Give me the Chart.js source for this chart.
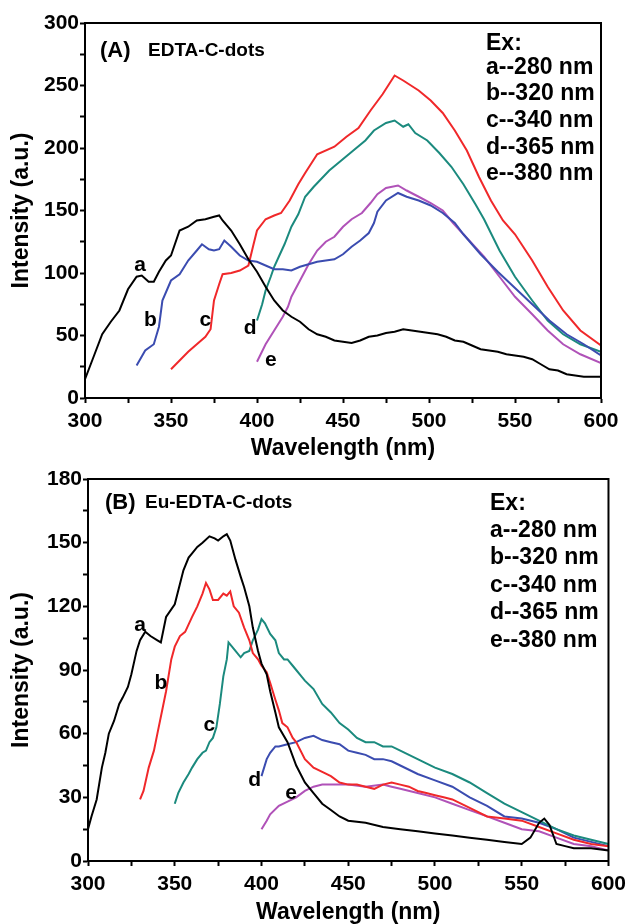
<!DOCTYPE html>
<html>
<head>
<meta charset="utf-8">
<script src="https://cdn.jsdelivr.net/npm/chart.js@4.4.0/dist/chart.umd.min.js"></script>
<style>
  body { margin: 0; background: #fff; }
  .box { position: absolute; left: 0; width: 632px; }
</style>
</head>
<body>
<div class="box" style="top:0;height:460px"><canvas id="chartA" width="632" height="460"></canvas></div>
<div class="box" style="top:460px;height:464px"><canvas id="chartB" width="632" height="464"></canvas></div>
<script>
// ---- (A) EDTA-C-dots ----
const topA_nm = [300,305,310,315,320,325,330,333,337,340,343,347,350,355,360,365,370,375,378,380,385,390,395,400,405,410,415,420,425,430,435,440,445,450,455,460,465,470,475,480,485,490,495,500,505,510,515,520,525,530,535,540,545,550,555,560,565,570,575,580,585,590,595,600];
const topA_int = [15,33,51,61,70,87,97,98,93,93,101,110,114,134,137,142,143,145,146,142,134,123,111,101,89,78,70,65,61,55,51,49,46,45,44,46,49,50,52,53,55,54,53,52,51,49,46,45,42,39,38,37,35,34,33,31,27,23,22,19,18,17,17,17];
const topB_nm = [330,335,340,343,345,350,355,360,365,368,372,375,378,381,385,390,395,400,405,410,415,420,425,430,435,440,445,450,455,460,465,468,470,475,482,487,494,501,508,515,520,530,540,550,560,570,580,590,600];
const topB_int = [26,38,43,57,78,94,99,110,118,123,119,118,119,126,121,114,110,109,106,103,103,102,105,107,109,110,111,115,121,126,132,140,149,158,164,161,158,154,148,140,131,115,101,88,75,62,51,43,34];
const topC_nm = [350,355,360,365,370,373,375,378,380,385,390,395,398,400,405,410,414,419,424,428,435,445,452,459,466,473,480,485,494,501,508,515,522,529,536,543,550,560,569,578,588,600];
const topC_int = [23,30,37,43,49,55,78,91,99,100,102,106,123,134,143,146,148,158,171,180,195,201,209,216,230,243,258,254,246,238,228,214,198,177,158,142,131,110,89,70,54,42];
const topD_nm = [400,403,405,408,410,413,416,420,424,428,433,442,449,456,463,468,475,480,485,488,492,499,506,513,520,527,532,541,550,560,569,578,588,600];
const topD_int = [62,75,86,97,105,114,123,137,147,161,169,182,190,198,206,214,220,222,217,219,212,206,196,185,171,155,143,118,97,78,62,51,43,37];
const topE_nm = [400,405,410,415,418,420,425,430,435,440,445,450,455,461,466,470,475,482,487,494,501,508,514,520,532,541,550,560,569,578,588,600];
const topE_int = [29,43,54,65,73,81,94,107,118,125,129,137,143,148,156,163,168,170,166,161,156,150,140,131,113,97,81,67,54,43,35,28];
const topTagNm = [332,338,370,396,408];
const topTagInt = [106,62,62,56,30];

// ---- (B) Eu-EDTA-C-dots ----
const botA_nm = [300,302,305,308,310,312,315,318,320,323,325,328,330,333,336,340,342,345,350,355,358,360,363,366,370,373,375,378,380,382,385,388,390,393,395,398,400,403,405,408,410,415,420,425,430,435,440,445,450,460,470,480,490,500,510,520,530,540,550,555,560,563,566,570,575,580,590,600];
const botA_int = [15,21,29,44,51,60,66,74,77,82,88,99,104,108,106,104,103,115,121,137,143,145,148,150,153,152,151,153,154,151,142,134,129,120,110,99,93,88,80,70,63,56,45,37,32,27,24,21,19,18,16,15,14,13,12,11,10,9,8,11,18,20,17,8,7,6,6,5];
const botB_nm = [330,332,335,338,340,343,345,348,350,353,356,360,363,366,368,370,372,375,378,380,382,384,387,390,393,395,398,400,403,405,408,410,412,415,418,420,425,430,435,440,445,450,455,460,465,470,475,480,485,490,495,500,505,510,515,520,525,530,540,550,560,570,580,590,600];
const botB_int = [29,33,44,52,60,72,80,95,101,106,108,115,120,126,131,128,123,123,126,125,127,120,117,110,104,98,95,92,89,84,76,71,65,63,58,56,48,44,42,40,37,36,36,35,34,36,37,36,35,33,32,31,30,29,27,25,23,21,20,19,16,13,10,8,7];
const botC_nm = [350,352,355,358,360,363,366,368,370,372,374,376,378,380,381,383,385,388,390,393,395,398,400,402,405,408,410,413,415,418,420,423,425,430,435,440,445,450,455,460,465,470,475,480,485,490,495,500,510,520,530,540,550,560,570,580,590,600];
const botC_int = [27,32,37,41,44,48,51,52,56,58,63,74,87,95,103,101,99,96,98,99,104,109,114,112,107,104,98,95,95,92,90,87,85,81,74,70,65,62,58,56,56,54,54,52,50,48,46,44,41,37,32,27,23,19,15,12,10,8];
const botD_nm = [400,403,405,408,410,415,420,425,430,435,440,445,450,455,460,465,470,475,480,490,500,510,520,530,540,550,560,570,580,590,600];
const botD_int = [40,48,51,54,54,55,56,58,59,57,56,55,52,51,50,48,48,47,45,41,38,35,30,26,21,20,18,15,11,9,7];
const botE_nm = [400,403,405,410,415,420,425,430,435,440,450,460,470,475,480,490,500,510,520,530,540,550,560,570,580,590,600];
const botE_int = [15,19,22,26,28,30,33,35,36,36,36,35,36,35,34,32,30,27,24,21,18,15,14,11,8,7,5];
const botTagNm = [330,342,370,396,417];
const botTagInt = [111,84,64,38,32];

const exLines = ['Ex:', 'a--280 nm', 'b--320 nm', 'c--340 nm', 'd--365 nm', 'e--380 nm'];
const letters = ['a', 'b', 'c', 'd', 'e'];

const FONT = '"Liberation Sans", Arial, sans-serif';
const BLACK = '#000000', BLUE = '#3b4cb0', RED = '#f0282a', TEAL = '#1b8a7e', MAGENTA = '#b052b8';

function toPoints(nm, val) {
  return nm.map((x, i) => ({ x: x, y: val[i] }));
}

// frame box + text annotations
function decor(cfg) {
  return {
    id: 'decor',
    afterDraw(chart) {
      const { ctx, chartArea: a, scales } = chart;
      ctx.save();
      ctx.strokeStyle = '#000';
      ctx.lineWidth = 2;
      ctx.strokeRect(a.left, a.top, a.right - a.left, a.bottom - a.top);
      ctx.fillStyle = '#000';
      ctx.textBaseline = 'middle';
      ctx.textAlign = 'left';
      ctx.font = 'bold 22px ' + FONT;
      ctx.fillText(cfg.tag, cfg.tagX, cfg.tagY);
      ctx.font = 'bold 19px ' + FONT;
      ctx.fillText(cfg.sample, cfg.sampleX, cfg.tagY);
      ctx.font = 'bold 23px ' + FONT;
      exLines.forEach((t, i) => ctx.fillText(t, cfg.legX, cfg.legY[i]));
      ctx.font = 'bold 21px ' + FONT;
      ctx.textAlign = 'center';
      letters.forEach((l, i) => {
        ctx.fillText(l, scales.x.getPixelForValue(cfg.tagNm[i]), scales.y.getPixelForValue(cfg.tagInt[i]));
      });
      ctx.restore();
    }
  };
}

function buildChart(id, cfg) {
  const axisFont = { family: FONT, size: 21, weight: 'bold' };
  const titleFont = { family: FONT, size: 23, weight: 'bold', lineHeight: 1 };
  const grid = { drawOnChartArea: false, tickLength: 5, tickWidth: 2, tickColor: '#000' };
  new Chart(document.getElementById(id), {
    type: 'line',
    data: {
      datasets: cfg.series.map(s => ({
        data: toPoints(s[0], s[1]),
        borderColor: s[2],
        borderWidth: 2,
        pointRadius: 0,
        tension: 0,
        fill: false
      }))
    },
    options: {
      responsive: false,
      animation: false,
      layout: { padding: cfg.pad },
      plugins: { legend: { display: false }, tooltip: { enabled: false } },
      scales: {
        x: {
          type: 'linear', min: 300, max: 600,
          afterFit: s => { s.height = cfg.xH; },
          ticks: { stepSize: 25, autoSkip: false, maxRotation: 0, padding: 6, color: '#000', font: axisFont,
            callback: v => (v % 50 === 0 ? v : '') },
          grid: grid,
          border: { color: '#000', width: 2 },
          title: { display: true, text: 'Wavelength (nm)', color: '#000', font: titleFont, padding: 0 }
        },
        y: {
          min: 0, max: cfg.yMax,
          afterFit: s => { s.width = cfg.yW; },
          ticks: { stepSize: cfg.yStep / 2, autoSkip: false, padding: 1, color: '#000', font: axisFont,
            callback: v => (v % cfg.yStep === 0 ? v : '') },
          grid: grid,
          border: { color: '#000', width: 2 },
          title: { display: true, text: 'Intensity (a.u.)', color: '#000', font: titleFont, padding: { top: 10, bottom: 0 } }
        }
      }
    },
    plugins: [decor(cfg)]
  });
}

buildChart('chartA', {
  series: [
    [topA_nm, topA_int, BLACK],
    [topB_nm, topB_int, BLUE],
    [topC_nm, topC_int, RED],
    [topD_nm, topD_int, TEAL],
    [topE_nm, topE_int, MAGENTA]
  ],
  pad: { left: 0, right: 31, top: 23, bottom: 0 },
  yW: 85, xH: 62, yMax: 300, yStep: 50,
  tag: '(A)', sample: 'EDTA-C-dots', tagX: 100, sampleX: 148, tagY: 51,
  legX: 486, legY: [44, 68, 94, 121, 148, 174],
  tagNm: topTagNm, tagInt: topTagInt
});

buildChart('chartB', {
  series: [
    [botA_nm, botA_int, BLACK],
    [botB_nm, botB_int, RED],
    [botC_nm, botC_int, TEAL],
    [botD_nm, botD_int, BLUE],
    [botE_nm, botE_int, MAGENTA]
  ],
  pad: { left: 0, right: 19, top: 19, bottom: 0 },
  yW: 88, xH: 63, yMax: 180, yStep: 30,
  tag: '(B)', sample: 'Eu-EDTA-C-dots', tagX: 105, sampleX: 145, tagY: 43,
  legX: 490, legY: [44, 71, 98, 126, 153, 181],
  tagNm: botTagNm, tagInt: botTagInt
});
</script>
</body>
</html>
